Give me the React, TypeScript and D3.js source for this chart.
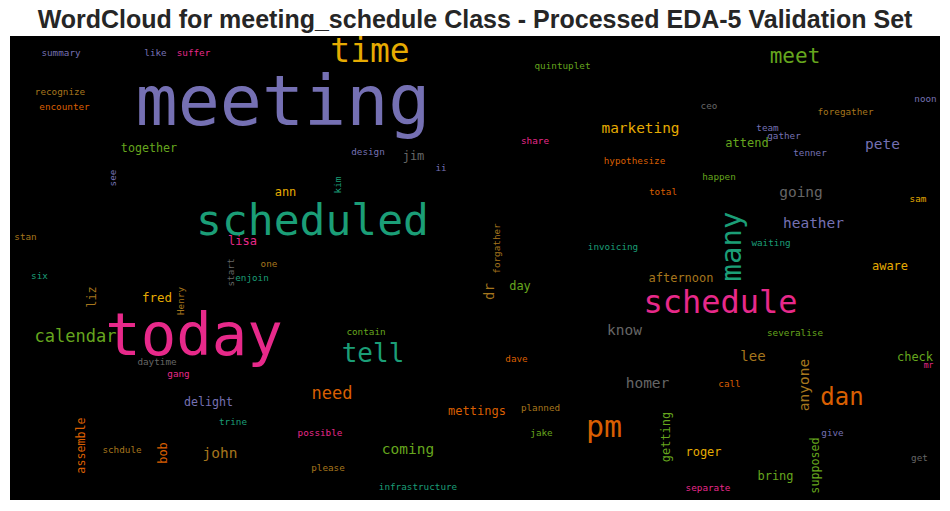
import React from "react";
import * as d3 from "d3";

const title = "WordCloud for meeting_schedule Class - Processed EDA-5 Validation Set";

const palette = ["#1b9e77", "#d95f02", "#7570b3", "#e7298a", "#66a61e", "#e6ab02", "#a6761d", "#666666"];

const words = [
  "meeting", "time", "meet", "scheduled", "today", "schedule", "many", "tell", "pm", "dan",
  "calendar", "need", "marketing", "pete", "going", "heather", "know", "homer", "john", "coming",
  "lee", "anyone", "dr", "together", "attend", "jim", "ann", "lisa", "liz", "fred",
  "day", "aware", "afternoon", "delight", "assemble", "bob", "mettings", "check", "getting", "roger",
  "supposed", "bring", "summary", "like", "suffer", "recognize", "encounter", "see", "quintuplet", "share",
  "design", "ii", "kim", "hypothesize", "noon", "ceo", "foregather", "team", "gather", "tenner",
  "happen", "total", "sam", "stan", "one", "start", "enjoin", "six", "Henry", "forgather",
  "invoicing", "waiting", "contain", "severalise", "daytime", "gang", "trine", "schdule", "possible", "please",
  "dave", "planned", "jake", "infrastructure", "mr", "call", "give", "get", "separate",
];

// relative frequencies (largest word = 70)
const frequencies = [
  70, 33, 21, 43, 59, 32, 29, 26, 30, 24,
  17, 17, 14.4, 14.5, 14.5, 14.5, 14.5, 14.5, 14.5, 14.5,
  14, 14.5, 14, 11.7, 12, 12, 12, 12, 12, 12.5,
  12, 12, 12, 11.7, 11.7, 12, 12, 12, 12, 12,
  11.7, 12, 9.3, 9.3, 9.3, 9.3, 9.3, 9.3, 9.3, 9.3,
  9.3, 9.3, 9.3, 9.3, 9.3, 9.3, 9.3, 9.3, 9.3, 9.3,
  9.3, 9.3, 9.3, 9.3, 9.3, 9.3, 9.3, 9.3, 9.3, 9.3,
  9.3, 9.3, 9.3, 9.3, 9.3, 9.3, 9.3, 9.3, 9.3, 9.3,
  9.3, 9.3, 9.3, 9.3, 8, 9.3, 9.3, 9.3, 9.3,
];

// layout: [x, y, vertical(0/1), colour index] in cloud coordinates (930 x 464)
const layout: [number, number, number, number][] = [
  [273, 65.3, 0, 2], [360, 14.6, 0, 5], [785, 19.7, 0, 4], [302.5, 184, 0, 0], [184, 298.6, 0, 3],
  [710.5, 266, 0, 3], [721, 210.5, 1, 0], [363, 317, 0, 0], [594, 390.6, 0, 1], [832, 360.7, 0, 1],
  [65.5, 299.7, 0, 4], [322, 357, 0, 1], [630.5, 92, 0, 5], [872.5, 108, 0, 2], [791, 155.7, 0, 7],
  [803.5, 187, 0, 2], [614.5, 294, 0, 7], [637.5, 347, 0, 7], [210, 417, 0, 6], [398, 413, 0, 4],
  [743, 320, 0, 6], [794, 349, 1, 6], [479, 255.5, 1, 6], [139, 112, 0, 4], [737, 107, 0, 4],
  [403.5, 120, 0, 7], [275.5, 156, 0, 5], [232.5, 205, 0, 3], [82, 261, 1, 6], [147, 261, 0, 5],
  [510, 250, 0, 4], [880, 230, 0, 5], [671, 242, 0, 6], [198.5, 365.7, 0, 2], [71, 409.5, 1, 1],
  [153, 417, 1, 1], [467, 375, 0, 1], [905, 321, 0, 4], [656, 401, 1, 4], [693.5, 416, 0, 5],
  [805, 429.5, 1, 4], [765.5, 439.7, 0, 4], [51, 16, 0, 2], [145.5, 16, 0, 2], [183.5, 16, 0, 3],
  [50, 55, 0, 6], [54.5, 70.7, 0, 1], [102, 142, 1, 2], [552.5, 29.7, 0, 4], [525, 104, 0, 3],
  [358, 115.7, 0, 2], [431, 131.7, 0, 2], [327, 149, 1, 0], [624.5, 124.7, 0, 1], [915.5, 62, 0, 2],
  [699, 69, 0, 7], [835.5, 75.7, 0, 6], [757.5, 91.7, 0, 2], [774, 99.7, 0, 2], [800, 116.7, 0, 2],
  [709, 140.7, 0, 4], [653, 155, 0, 1], [908, 162, 0, 5], [15.5, 200.7, 0, 6], [259, 227, 0, 6],
  [220, 236.5, 1, 7], [242, 241, 0, 0], [29.5, 239, 0, 0], [170, 265, 1, 6], [486, 212.5, 1, 6],
  [603, 210.7, 0, 0], [761, 206, 0, 0], [356, 295, 0, 4], [785, 296.7, 0, 4], [147, 325, 0, 7],
  [168.5, 337, 0, 3], [223, 385, 0, 0], [112, 413, 0, 6], [310, 396.7, 0, 3], [318, 431.7, 0, 6],
  [506.5, 322, 0, 1], [530.5, 371, 0, 6], [531.5, 396.7, 0, 4], [408, 450, 0, 0], [918.5, 329.7, 0, 3],
  [719.5, 347, 0, 1], [822.5, 396.7, 0, 2], [909.5, 421.7, 0, 7], [698, 451.7, 0, 3],
];

const W = 950;
const H = 511;
const plot = { left: 10, top: 36, right: 940, bottom: 500 };

export default function App() {
  const x = d3.scaleLinear().domain([0, 930]).range([plot.left, plot.right]);
  const y = d3.scaleLinear().domain([0, 464]).range([plot.top, plot.bottom]);
  const maxF = d3.max(frequencies) as number;
  const size = d3.scaleLinear().domain([0, maxF]).range([0, 70]);

  return (
    <svg width={W} height={H} style={{ position: "absolute", left: 0, top: 0, background: "#fff" }}>
      <text
        x={W / 2}
        y={28}
        textAnchor="middle"
        fontFamily="'Liberation Sans', Arial, sans-serif"
        fontWeight="bold"
        fontSize={25}
        fill="#262626"
      >
        {title}
      </text>
      <rect x={plot.left} y={plot.top} width={plot.right - plot.left} height={plot.bottom - plot.top} fill="#000" />
      <g fontFamily="'DejaVu Sans Mono', monospace">
        {words.map((w, i) => {
          const [lx, ly, rot, ci] = layout[i];
          return (
            <text
              key={w + i}
              transform={`translate(${x(lx)},${y(ly)})${rot ? " rotate(-90)" : ""}`}
              textAnchor="middle"
              dominantBaseline="central"
              fontSize={size(frequencies[i])}
              fill={palette[ci]}
            >
              {w}
            </text>
          );
        })}
      </g>
    </svg>
  );
}
